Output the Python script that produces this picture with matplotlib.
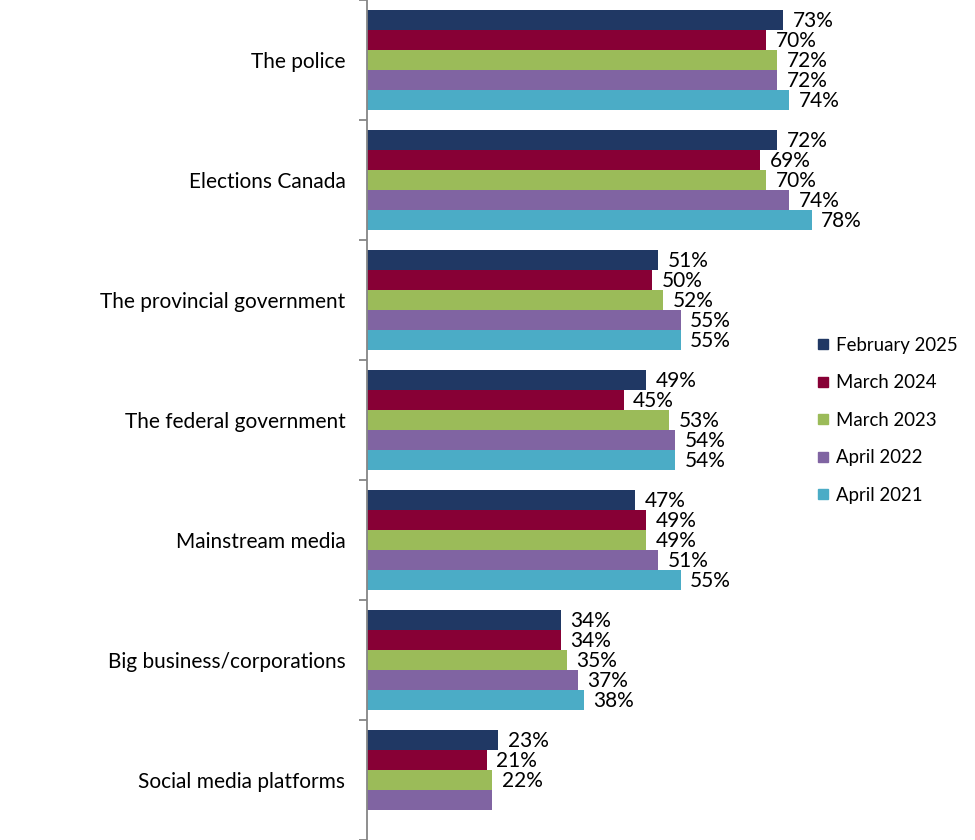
import numpy as np
import matplotlib.pyplot as plt
from matplotlib.lines import Line2D

categorias = ["The police", "Elections Canada", "The provincial government",
              "The federal government", "Mainstream media",
              "Big business/corporations", "Social media platforms"]
series = ["February 2025", "March 2024", "March 2023", "April 2022", "April 2021"]
colores = ["#203864", "#870035", "#9BBB59", "#8064A2", "#4BACC6"]

feb_2025 = [73, 72, 51, 49, 47, 34, 23]
mar_2024 = [70, 69, 50, 45, 49, 34, 21]
mar_2023 = [72, 70, 52, 53, 49, 35, 22]
abr_2022 = [72, 74, 55, 54, 51, 37, 22]
abr_2021 = [74, 78, 55, 54, 55, 38, np.nan]

valores = [feb_2025, mar_2024, mar_2023, abr_2022, abr_2021]

plt.rcParams['font.family'] = ['Lato', 'DejaVu Sans']
fs = 15

fig = plt.figure(figsize=(9.75, 8.4), dpi=100)
ax = fig.add_axes([367 / 975, 0, 1 - 367 / 975, 1])

alto = 1 / 6
y = np.arange(len(categorias))
for j, (serie, vals, col) in enumerate(zip(series, valores, colores)):
    pos = y + (j - 2) * alto
    ax.barh(pos, vals, height=alto, color=col, label=serie)
    for i, v in enumerate(vals):
        if np.isnan(v):
            continue
        # la etiqueta de April 2022 en redes sociales no aparece
        if i == 6 and j == 3:
            continue
        ax.text(v + 1.7, pos[i] + 0.01, f"{v:.0f}%", va="center", ha="left",
                fontsize=fs, color="black")

ax.set_xlim(0, (975 - 367) / 5.7)
ax.set_ylim(len(categorias) - 0.5, -0.5)

ax.set_yticks(y)
ax.set_yticklabels(categorias, fontsize=fs)
ax.tick_params(axis="y", which="major", length=0, pad=15.5)
ax.set_yticks(np.arange(-0.5, len(categorias) + 0.5, 1), minor=True)
ax.tick_params(axis="y", which="minor", length=6, width=1.3, color="#868686",
               direction="out")
ax.set_xticks([])

for s in ["top", "right", "bottom"]:
    ax.spines[s].set_visible(False)
ax.spines["left"].set_color("#868686")
ax.spines["left"].set_linewidth(1.3)

manijas = [Line2D([], [], marker="s", linestyle="", markersize=7.5,
                  markerfacecolor=c, markeredgecolor=c) for c in colores]
fig.legend(manijas, series, loc="upper left", bbox_to_anchor=(815 / 975, 1 - 337 / 840),
           frameon=False, fontsize=13.4, handlelength=0.85, handletextpad=0.3,
           labelspacing=1.1, borderaxespad=0, borderpad=0)

plt.savefig("out.png", dpi=100)
